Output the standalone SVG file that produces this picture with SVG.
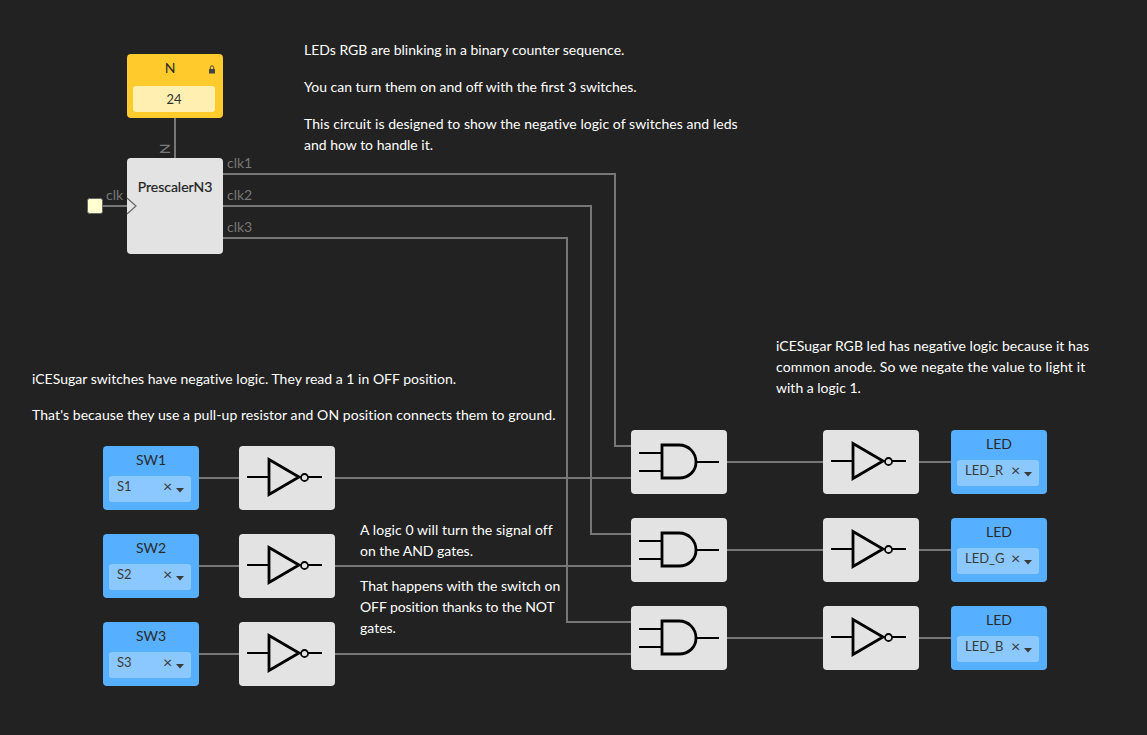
<svg xmlns="http://www.w3.org/2000/svg" xmlns:xlink="http://www.w3.org/1999/xlink" width="1147" height="735" viewBox="0 0 1147 735">
<style>
text{font-family:Lato,"Open Sans","Liberation Sans",sans-serif}
.note{font-size:14px;fill:#fff}
.wire{fill:none;stroke:#777;stroke-width:2}
.port{font-size:14px;fill:#777}
.block{fill:#e3e3e3}
.io{fill:#57b0ff}
.sel{fill:#8ac8ff}
.title{font-size:14px;fill:#2a2a2a;text-anchor:middle}
.val{font-size:13px;fill:#3a3a3a}
.x{font-size:16px;fill:#3a3a3a}
.sym{fill:none;stroke:#000;stroke-width:2.8}
.thin{fill:none;stroke:#000;stroke-width:1.8}
</style>
<defs>
<g id="notg"><rect class="block" width="96" height="64" rx="4"/>
<path class="thin" d="M8 31H30M69 31H83"/><path class="sym" d="M30 13.500L60 31L30 48.500Z"/><circle cx="65.500" cy="31.500" r="3.500" fill="none" stroke="#000" stroke-width="1.800"/></g>
<g id="andg"><rect class="block" width="96" height="64" rx="4"/>
<path class="thin" d="M8 23H31M8 41H31M65 32H88"/><path class="sym" d="M31 15H48C58 15 65 23 65 32C65 41 58 48 48 48H31Z"/></g>
<path id="caret" d="M0 0H8L4 4.500Z" fill="#3a3a3a"/>
</defs>
<rect width="1147" height="735" fill="#222"/>
<g id="connectors">
<path class="wire" d="M175 118V158"/>
<path class="wire" d="M99 206H127"/>
<path class="wire" d="M223 174H615V446H631"/>
<path class="wire" d="M223 206H591V534H631"/>
<path class="wire" d="M223 238H567V622H631"/>
<path class="wire" d="M199 478H239M199 566H239M199 654H239"/>
<path class="wire" d="M335 478H631M335 566H631M335 654H631"/>
<path class="wire" d="M727 462H823M727 550H823M727 638H823"/>
<path class="wire" d="M919 462H951M919 550H951M919 638H951"/>
</g>
<g id="notes">
<text class="note" x="304" y="55">LEDs RGB are blinking in a binary counter sequence.</text>
<text class="note" x="304" y="92">You can turn them on and off with the first 3 switches.</text>
<text class="note" x="304" y="129" style="letter-spacing:.055px">This circuit is designed to show the negative logic of switches and leds</text>
<text class="note" x="304" y="150">and how to handle it.</text>
<text class="note" x="32" y="384" style="letter-spacing:.015px">iCESugar switches have negative logic. They read a 1 in OFF position.</text>
<text class="note" x="32" y="420" style="letter-spacing:.072px">That's because they use a pull-up resistor and ON position connects them to ground.</text>
<text class="note" x="776" y="351" style="letter-spacing:.04px">iCESugar RGB led has negative logic because it has</text>
<text class="note" x="776" y="372" style="letter-spacing:.145px">common anode. So we negate the value to light it</text>
<text class="note" x="776" y="393">with a logic 1.</text>
<text class="note" x="360" y="535" style="letter-spacing:.09px">A logic 0 will turn the signal off</text>
<text class="note" x="360" y="556">on the AND gates.</text>
<text class="note" x="360" y="591">That happens with the switch on</text>
<text class="note" x="360" y="612" style="letter-spacing:-.1px">OFF position thanks to the NOT</text>
<text class="note" x="360" y="633">gates.</text>
</g>
<g id="node-n">
<rect x="127" y="54" width="96" height="64" rx="4" fill="#ffca2c"/>
<text class="title" x="170" y="73">N</text>
<rect x="209" y="69" width="6" height="4.500" rx=".6" fill="#444"/>
<path d="M210.300 69.500v-2a1.700 1.700 0 0 1 3.400 0v2" fill="none" stroke="#444" stroke-width="1"/>
<rect x="133" y="86" width="82" height="26" rx="3" fill="#ffefb0"/>
<text x="174" y="104" font-size="13" fill="#333" text-anchor="middle">24</text>
</g>
<g id="node-prescaler">
<rect x="127" y="158" width="96" height="96" rx="4" fill="#e3e3e3"/>
<text x="175" y="192" font-size="14" fill="#222" stroke="#222" stroke-width=".2" text-anchor="middle">PrescalerN3</text>
<path d="M127 198L136 206L127 214" fill="#e3e3e3" stroke="#666" stroke-width="1.200"/>
<text class="port" x="106" y="200">clk</text>
<text class="port" x="227" y="168">clk1</text>
<text class="port" x="227" y="200">clk2</text>
<text class="port" x="227" y="232">clk3</text>
<text class="port" transform="translate(170 149) rotate(-90)" text-anchor="middle" y="0">N</text>
</g>
<g id="node-clk"><rect x="87.500" y="198.500" width="15" height="15" rx="2" fill="#ffffd0" stroke="#666" stroke-width="1"/></g>
<g id="node-sw1"><rect class="io" x="103" y="446" width="96" height="64" rx="4"/><text class="title" x="151" y="465">SW1</text><rect class="sel" x="109" y="476" width="82" height="26" rx="3"/><text class="val" x="117" y="491">S1</text><text class="x" x="163" y="492">×</text><use xlink:href="#caret" x="176" y="488"/></g>
<g id="node-sw2"><rect class="io" x="103" y="534" width="96" height="64" rx="4"/><text class="title" x="151" y="553">SW2</text><rect class="sel" x="109" y="564" width="82" height="26" rx="3"/><text class="val" x="117" y="579">S2</text><text class="x" x="163" y="580">×</text><use xlink:href="#caret" x="176" y="576"/></g>
<g id="node-sw3"><rect class="io" x="103" y="622" width="96" height="64" rx="4"/><text class="title" x="151" y="641">SW3</text><rect class="sel" x="109" y="652" width="82" height="26" rx="3"/><text class="val" x="117" y="667">S3</text><text class="x" x="163" y="668">×</text><use xlink:href="#caret" x="176" y="664"/></g>
<g id="node-not1"><use xlink:href="#notg" x="239" y="446"/></g>
<g id="node-not2"><use xlink:href="#notg" x="239" y="534"/></g>
<g id="node-not3"><use xlink:href="#notg" x="239" y="622"/></g>
<g id="node-and1"><use xlink:href="#andg" x="631" y="430"/></g>
<g id="node-and2"><use xlink:href="#andg" x="631" y="518"/></g>
<g id="node-and3"><use xlink:href="#andg" x="631" y="606"/></g>
<g id="node-not4"><use xlink:href="#notg" x="823" y="430"/></g>
<g id="node-not5"><use xlink:href="#notg" x="823" y="518"/></g>
<g id="node-not6"><use xlink:href="#notg" x="823" y="606"/></g>
<g id="node-led-r"><rect class="io" x="951" y="430" width="96" height="64" rx="4"/><text class="title" x="999" y="449">LED</text><rect class="sel" x="957" y="460" width="82" height="26" rx="3"/><text class="val" x="965" y="475">LED_R</text><text class="x" x="1011" y="476">×</text><use xlink:href="#caret" x="1024" y="472"/></g>
<g id="node-led-g"><rect class="io" x="951" y="518" width="96" height="64" rx="4"/><text class="title" x="999" y="537">LED</text><rect class="sel" x="957" y="548" width="82" height="26" rx="3"/><text class="val" x="965" y="563">LED_G</text><text class="x" x="1011" y="564">×</text><use xlink:href="#caret" x="1024" y="560"/></g>
<g id="node-led-b"><rect class="io" x="951" y="606" width="96" height="64" rx="4"/><text class="title" x="999" y="625">LED</text><rect class="sel" x="957" y="636" width="82" height="26" rx="3"/><text class="val" x="965" y="651">LED_B</text><text class="x" x="1011" y="652">×</text><use xlink:href="#caret" x="1024" y="648"/></g>
</svg>
